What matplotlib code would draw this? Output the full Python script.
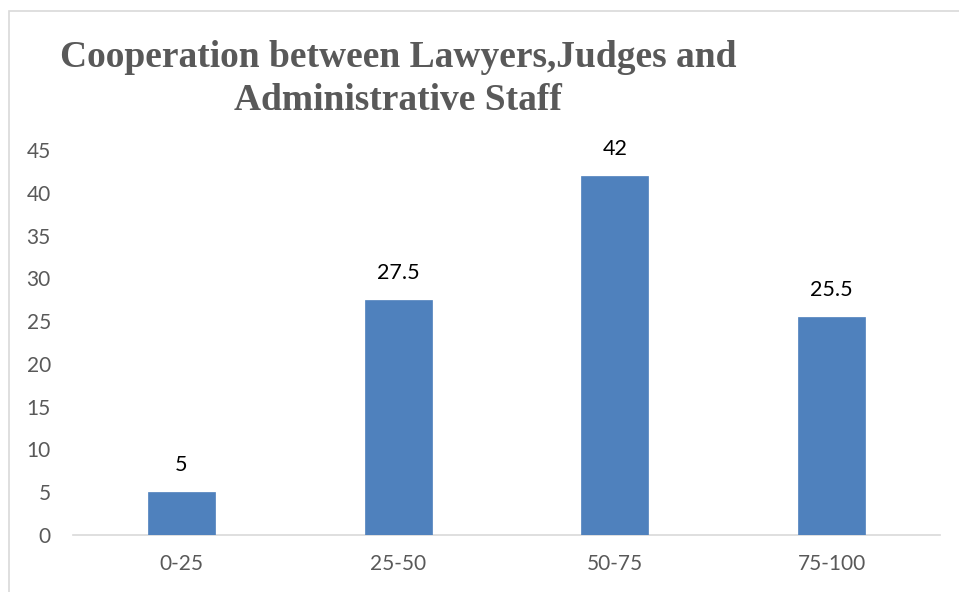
import matplotlib.pyplot as plt
from matplotlib.patches import Rectangle

categories = ['0-25', '25-50', '50-75', '75-100']
values = [5, 27.5, 42, 25.5]
yticks = [0, 5, 10, 15, 20, 25, 30, 35, 40, 45]

W, H = 959, 592
fig = plt.figure(figsize=(W / 100, H / 100), dpi=100)

# chart area border (runs off the right and bottom edges)
fig.patches.append(Rectangle((9 / W, -0.1), 1.2, 1 - 11 / H + 0.1,
                             transform=fig.transFigure, fill=False,
                             edgecolor='#d9d9d9', linewidth=1.2))

ax = fig.add_axes([73 / W, 1 - 535 / H, (940 - 73) / W, (535 - 150) / H])
x = range(len(categories))
bars = ax.bar(x, values, width=0.31, color='#4f81bd', edgecolor='#4f81bd',
              linewidth=0.5, zorder=3)

for xi, v in zip(x, values):
    ax.text(xi, v + 2.0, f'{v:g}', ha='center', va='bottom',
            fontsize=15.5, color='#000000', family='Lato')

ax.set_xlim(-0.5, len(categories) - 0.5)
ax.set_ylim(0, 45)
ax.set_yticks(yticks)
ax.set_xticks(list(x))
ax.set_xticklabels(categories)

for s in ['top', 'right', 'left']:
    ax.spines[s].set_visible(False)
ax.spines['bottom'].set_color('#d9d9d9')
ax.spines['bottom'].set_linewidth(1.2)
ax.tick_params(axis='both', length=0, labelsize=15, labelcolor='#595959')
ax.tick_params(axis='y', pad=16)
ax.tick_params(axis='x', pad=14)
for lbl in ax.get_xticklabels() + ax.get_yticklabels():
    lbl.set_family('Lato')

fig.text(398 / W, 1 - 40 / H,
         'Cooperation between Lawyers,Judges and\nAdministrative Staff',
         ha='center', va='top', multialignment='center',
         fontsize=27, fontweight='bold', family='Liberation Serif',
         color='#595959', linespacing=1.3)

fig.savefig('out.png', dpi=100)
